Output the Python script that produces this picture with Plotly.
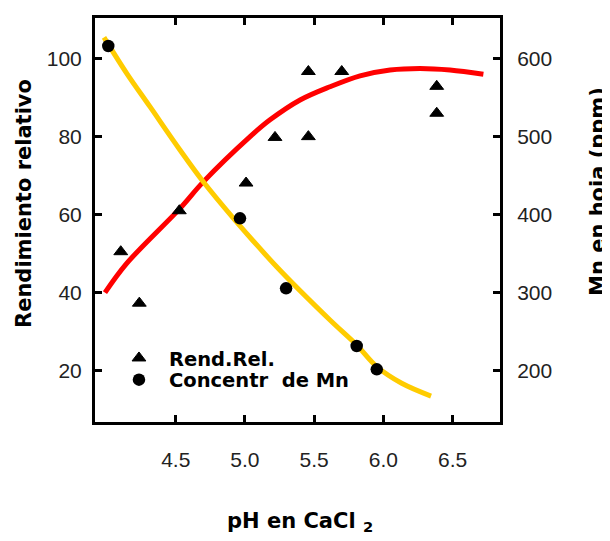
import plotly.graph_objects as go

# ---- data ----
rend_ph = [4.103, 4.237, 4.526, 5.008, 5.217, 5.458, 5.458, 5.699, 6.385, 6.385]
rend_val = [50.4, 37.2, 60.9, 68.0, 79.7, 79.9, 96.6, 96.6, 92.8, 85.9]

mn_ph = [4.013, 4.964, 5.297, 5.807, 5.952]
mn_val = [615.7, 394.8, 305.0, 231.1, 201.2]

rend_fit_ph = [3.989, 4.146, 4.531, 4.699, 5.037, 5.181, 5.398, 5.614, 5.831,
               6.048, 6.264, 6.481, 6.722]
rend_fit_val = [39.9, 47.4, 61.5, 68.3, 79.9, 84.2, 89.3, 92.7, 95.5,
                97.0, 97.4, 97.0, 95.9]

mn_fit_ph = [3.982, 4.146, 4.314, 4.531, 4.699, 4.928, 5.229, 5.614, 5.807, 5.952, 6.132, 6.344]
mn_fit_val = [626.8, 580.7, 537.9, 482.4, 441.7, 392.6, 332.7, 264.4, 232.4, 204.6, 183.3, 166.9]

x_ticks = [4.5, 5.0, 5.5, 6.0, 6.5]
y_ticks = [20, 40, 60, 80, 100]
y2_ticks = [200, 300, 400, 500, 600]

x_range = [3.917, 6.842]
y_range = [6.73, 110.32]
y2_range = [133.65, 651.6]

tick_font = dict(family="Liberation Sans, Arial, sans-serif", size=21, color="#222222")
bold_font = dict(family="DejaVu Sans, sans-serif", size=21, color="black", weight="bold")
legend_font = dict(family="DejaVu Sans, sans-serif", size=19.5, color="black", weight="bold")

fig = go.Figure()

fig.add_trace(go.Scatter(
    x=rend_fit_ph, y=rend_fit_val, mode="lines",
    line=dict(color="#FF0000", width=5, shape="spline", smoothing=1.0),
    showlegend=False, hoverinfo="skip"))

fig.add_trace(go.Scatter(
    x=rend_ph, y=rend_val, mode="markers", name="Rend.Rel.",
    marker=dict(symbol="triangle-up", size=12, color="black",
                line=dict(color="black", width=1)),
    legend="legend"))

fig.add_trace(go.Scatter(
    x=mn_fit_ph, y=mn_fit_val, mode="lines", yaxis="y2",
    line=dict(color="#FFCC00", width=5, shape="spline", smoothing=1.0),
    showlegend=False, hoverinfo="skip"))

fig.add_trace(go.Scatter(
    x=mn_ph, y=mn_val, mode="markers", yaxis="y2",
    name="Concentr\u00a0\u00a0de Mn",
    marker=dict(symbol="circle", size=12.5, color="black"),
    legend="legend2"))

axis_common = dict(showgrid=False, zeroline=False, showline=True,
                   linecolor="black", linewidth=3, ticks="inside",
                   ticklen=7, tickwidth=2.5, tickcolor="black",
                   tickfont=tick_font)

fig.update_layout(
    width=610, height=541,
    margin=dict(l=87, r=118, t=10, b=127, autoexpand=False),
    paper_bgcolor="white", plot_bgcolor="white",
    xaxis=dict(range=x_range, tickvals=x_ticks, tickformat=".1f",
               mirror="ticks", ticklabelstandoff=17, **axis_common),
    yaxis=dict(range=y_range, tickvals=y_ticks, ticklabelstandoff=6,
               mirror=False, **axis_common),
    yaxis2=dict(range=y2_range, tickvals=y2_ticks, overlaying="y", side="right",
                ticklabelstandoff=10, **axis_common),
    legend=dict(x=0.0345, y=0.1577, xanchor="left", yanchor="middle",
                bgcolor="rgba(0,0,0,0)", font=legend_font, itemwidth=50,
                borderwidth=0),
    legend2=dict(x=0.0345, y=0.104, xanchor="left", yanchor="middle",
                 bgcolor="rgba(0,0,0,0)", font=legend_font, itemwidth=50,
                 borderwidth=0),
    annotations=[
        dict(text="Rendimiento relativo", xref="paper", yref="paper",
             x=-0.1753, y=0.5396, xanchor="center", yanchor="middle",
             textangle=-90, showarrow=False, font=bold_font),
        dict(text="Mn en hoja (ppm)", xref="paper", yref="paper",
             x=1.242, y=0.5693, xanchor="center", yanchor="middle",
             textangle=-90, showarrow=False, font=bold_font),
        dict(text="pH en CaCl <sub>2</sub>", xref="paper", yref="paper",
             x=0.5074, y=-0.248, xanchor="center", yanchor="middle",
             showarrow=False, font=bold_font),
    ],
)

fig.write_html("out.html")
